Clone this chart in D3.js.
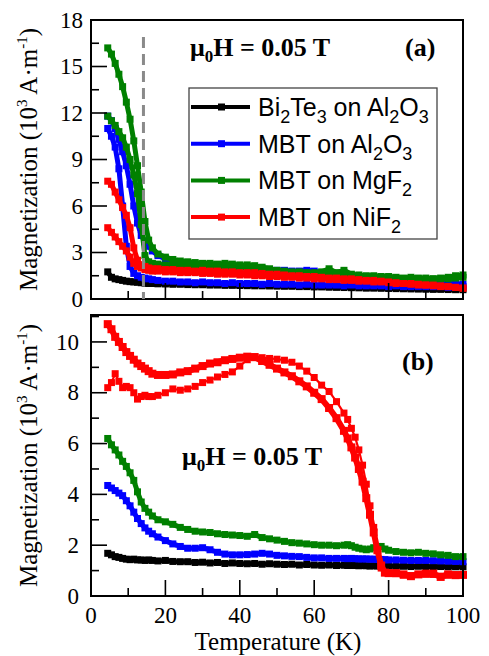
<!DOCTYPE html>
<html>
<head>
<meta charset="utf-8">
<script src="https://cdn.jsdelivr.net/npm/d3@7"></script>
<style>
body { margin: 0; background: #fff; }
</style>
</head>
<body>
<div id="chart"></div>
<script>
// ---- data, panel (a) ----
var tempA = [4.5, 5.5, 6.5, 7.5, 8.5, 9.5, 10.5, 11.5, 12.5, 13.5, 14.5, 15.5, 16.5,
  18, 20, 22, 24, 26, 28, 30, 32, 34, 36, 38, 40, 42, 44, 46, 48, 50, 52, 54, 56, 58,
  60, 62, 64, 66, 68, 70, 72, 74, 76, 78, 80, 82, 84, 86, 88, 90, 92, 94, 96, 98, 100];

var blackA = [1.75, 1.4, 1.3, 1.25, 1.2, 1.15, 1.12, 1.1, 1.08, 1.05, 1.03, 1.0, 1.0,
  0.98, 0.97, 0.95, 0.95, 0.93, 0.92, 0.92, 0.9, 0.9, 0.88, 0.88, 0.87, 0.86, 0.85, 0.85, 0.84, 0.83, 0.82, 0.82, 0.8, 0.8,
  0.78, 0.78, 0.76, 0.75, 0.74, 0.73, 0.72, 0.7, 0.7, 0.69, 0.68, 0.67, 0.66, 0.65, 0.64, 0.63, 0.62, 0.62, 0.61, 0.6, 0.6];
var blueA1 = [11.8, 11.5, 11.0, 10.3, 9.5, 8.6, 7.4, 6.0, 4.9, 4.1, 3.7, 3.4, 3.1,
  2.8, 2.6, 2.4, 2.3, 2.25, 2.2, 2.2, 2.15, 2.15, 2.1, 2.1, 2.05, 2.05, 2.0, 1.95, 1.85, 1.85, 1.85, 1.8, 1.8, 1.85,
  1.8, 1.7, 1.65, 1.6, 1.55, 1.5, 1.45, 1.4, 1.35, 1.35, 1.3, 1.25, 1.2, 1.2, 1.15, 1.1, 1.1, 1.05, 1.0, 1.0, 0.95];
var blueA2 = [11.0, 10.5, 9.8, 8.4, 6.0, 3.4, 2.1, 1.65, 1.5, 1.4, 1.35, 1.3, 1.25,
  1.2, 1.15, 1.15, 1.1, 1.1, 1.05, 1.1, 1.05, 1.05, 1.0, 1.05, 1.0, 1.0, 1.0, 0.95, 1.0, 0.95, 0.95, 0.95, 0.9, 0.95,
  0.9, 0.9, 0.9, 0.9, 0.85, 0.9, 0.85, 0.85, 0.85, 0.85, 0.8, 0.85, 0.8, 0.8, 0.8, 0.8, 0.8, 0.8, 0.75, 0.8, 0.8];
var greenA1 = [16.2, 15.8, 15.2, 14.5, 13.7, 12.7, 11.6, 10.2, 8.6, 6.9, 5.0, 3.8, 3.3,
  2.9, 2.7, 2.55, 2.45, 2.4, 2.35, 2.3, 2.3, 2.25, 2.3, 2.25, 2.2, 2.2, 2.15, 2.05, 1.95, 1.85, 1.8, 1.75, 1.75, 1.7,
  1.7, 1.75, 1.95, 1.7, 1.85, 1.6, 1.55, 1.5, 1.5, 1.45, 1.45, 1.4, 1.35, 1.4, 1.35, 1.35, 1.3, 1.35, 1.4, 1.5, 1.55];
var greenA2 = [11.8, 11.5, 11.2, 10.8, 10.4, 9.8, 9.0, 8.0, 6.8, 4.8, 2.8, 2.4, 2.3,
  2.25, 2.2, 2.2, 2.15, 2.15, 2.1, 2.1, 2.1, 2.1, 2.05, 2.05, 2.05, 2.0, 2.0, 1.95, 1.9, 1.8, 1.75, 1.7, 1.7, 1.65,
  1.6, 1.65, 1.6, 1.55, 1.55, 1.5, 1.45, 1.45, 1.45, 1.4, 1.4, 1.35, 1.3, 1.3, 1.3, 1.25, 1.3, 1.3, 1.3, 1.35, 1.4];
var redA1 = [7.6, 7.4, 6.9, 6.4, 5.9, 5.4, 4.6, 3.3, 2.5, 2.2, 2.1, 2.0, 1.95,
  1.95, 1.9, 1.9, 1.85, 1.85, 1.8, 1.85, 1.8, 1.8, 1.75, 1.75, 1.7, 1.7, 1.7, 1.65, 1.6, 1.6, 1.55, 1.5, 1.5, 1.45,
  1.45, 1.4, 1.35, 1.35, 1.3, 1.3, 1.25, 1.2, 1.2, 1.15, 1.1, 1.05, 1.0, 1.0, 0.95, 0.9, 0.9, 0.85, 0.8, 0.75, 0.7];
var redA2 = [4.6, 4.3, 4.0, 3.7, 3.4, 3.1, 2.7, 2.3, 2.1, 2.0, 1.9, 1.85, 1.8,
  1.8, 1.75, 1.75, 1.7, 1.7, 1.7, 1.65, 1.65, 1.6, 1.6, 1.6, 1.55, 1.55, 1.5, 1.5, 1.45, 1.45, 1.4, 1.4, 1.35, 1.35,
  1.3, 1.3, 1.25, 1.25, 1.2, 1.2, 1.15, 1.15, 1.1, 1.1, 1.05, 1.0, 1.0, 0.95, 0.9, 0.9, 0.85, 0.8, 0.8, 0.75, 0.7];

// ---- data, panel (b) ----
var tempB = [4.5, 5.5, 6.5, 7.5, 8.5, 9.5, 10.5, 11.5, 12.5, 13.5, 14.5, 15.5, 16.5,
  18, 20, 22, 24, 26, 28, 30, 32, 34, 36, 38, 40, 42, 44, 46, 48, 50, 52, 54, 56, 58, 60, 62, 64, 66, 68,
  69, 70, 71, 72, 73, 74, 75, 76, 77, 78, 79, 80,
  82, 84, 86, 88, 90, 92, 94, 96, 98, 100];

var blackB = [1.68, 1.62, 1.55, 1.52, 1.48, 1.45, 1.43, 1.45, 1.42, 1.42, 1.4, 1.42, 1.4,
  1.38, 1.4, 1.36, 1.35, 1.35, 1.32, 1.33, 1.3, 1.32, 1.28, 1.3, 1.28, 1.27, 1.28, 1.25, 1.27, 1.25, 1.24, 1.25, 1.22, 1.24, 1.22, 1.21, 1.22, 1.2, 1.21,
  1.2, 1.2, 1.2, 1.19, 1.2, 1.19, 1.18, 1.19, 1.18, 1.18, 1.17, 1.18,
  1.17, 1.17, 1.16, 1.17, 1.16, 1.15, 1.16, 1.15, 1.15, 1.15];
var blueB = [4.35, 4.25, 4.15, 4.05, 3.95, 3.75, 3.55, 3.3, 3.05, 2.85, 2.68, 2.55, 2.45,
  2.32, 2.18, 2.05, 1.95, 1.88, 1.88, 1.9, 1.82, 1.72, 1.65, 1.62, 1.62, 1.63, 1.65, 1.68, 1.65, 1.6, 1.58, 1.56, 1.55, 1.52, 1.5, 1.5, 1.48, 1.48, 1.48,
  1.47, 1.48, 1.47, 1.46, 1.46, 1.46, 1.45, 1.45, 1.44, 1.44, 1.43, 1.42,
  1.42, 1.41, 1.4, 1.4, 1.4, 1.39, 1.38, 1.37, 1.36, 1.35];
var greenB = [6.2, 5.95, 5.75, 5.55, 5.3, 5.1, 4.85, 4.55, 4.1, 3.7, 3.45, 3.3, 3.15,
  3.0, 2.92, 2.82, 2.7, 2.62, 2.55, 2.52, 2.5, 2.45, 2.42, 2.4, 2.38, 2.35, 2.42, 2.3, 2.25, 2.2, 2.15, 2.1, 2.08, 2.05, 2.02, 2.0, 2.0, 1.98, 2.0,
  2.02, 1.98, 1.92, 1.88, 1.85, 1.82, 1.85, 1.9, 1.95, 1.95, 1.85, 1.8,
  1.75, 1.72, 1.7, 1.72, 1.68, 1.66, 1.62, 1.6, 1.55, 1.55];
var redB1 = [10.7, 10.5, 10.2, 10.0, 9.8, 9.6, 9.45, 9.3, 9.15, 9.05, 8.95, 8.85, 8.75,
  8.7, 8.7, 8.72, 8.8, 8.85, 8.95, 9.05, 9.15, 9.2, 9.28, 9.33, 9.38, 9.42, 9.4, 9.25, 9.1, 8.95, 8.8, 8.65, 8.45, 8.25, 8.0, 7.75, 7.4, 7.0, 6.5,
  6.2, 5.85, 5.45, 5.0, 4.5, 3.85, 3.2, 2.5, 1.8, 1.2, 0.92, 0.9,
  0.9, 0.85, 0.78, 0.85, 0.88, 0.88, 0.75, 0.85, 0.82, 0.83];
var redB2 = [8.2, 8.4, 8.75, 8.45, 8.2, 8.25, 8.2, 8.0, 7.75, 7.85, 7.9, 7.85, 7.85,
  7.9, 8.0, 8.15, 8.1, 8.15, 8.25, 8.4, 8.5, 8.62, 8.72, 8.82, 9.05, 9.3, 9.42, 9.38, 9.35, 9.32, 9.28, 9.2, 9.05, 8.85, 8.6, 8.3, 8.05, 7.65, 7.2,
  6.95, 6.6, 6.25, 5.75, 5.15, 4.4, 3.55, 2.7, 1.8, 1.1, 0.92, 0.9,
  0.88, 0.82, 0.8, 0.85, 0.86, 0.85, 0.78, 0.82, 0.84, 0.85];

var legendNames = [
  [["Bi", ""], ["2", "sub"], ["Te", ""], ["3", "sub"], [" on Al", ""], ["2", "sub"], ["O", ""], ["3", "sub"]],
  [["MBT on Al", ""], ["2", "sub"], ["O", ""], ["3", "sub"]],
  [["MBT on MgF", ""], ["2", "sub"]],
  [["MBT on NiF", ""], ["2", "sub"]]
];
var colors = ["#000000", "#0000ff", "#008000", "#ff0000"];

var svgWidth = 489;
var svgHeight = 656;
var plotLeft = 91, plotRight = 463;
var serif = "Liberation Serif";

var svg = d3.select("#chart")
  .append("svg")
  .attr("width", svgWidth)
  .attr("height", svgHeight);

var x = d3.scaleLinear().domain([0, 100]).range([plotLeft, plotRight]);

function drawPanel(top, bottom, yMax, yMajor, yMinor, labelRight, showXLabels, series) {
  var y = d3.scaleLinear().domain([0, yMax]).range([bottom, top]);
  var g = svg.append("g");

  // data
  series.forEach(function(s) {
    var pts = s.temps.map((t, i) => [t, s.values[i]]);
    var line = d3.line().x(d => x(d[0])).y(d => y(d[1]));
    g.append("path")
      .datum(pts)
      .attr("fill", "none")
      .attr("stroke", s.color)
      .attr("stroke-width", s.lw)
      .attr("stroke-linejoin", "round")
      .attr("d", line);
    g.selectAll(null)
      .data(pts)
      .enter()
      .append("rect")
      .attr("x", d => x(d[0]) - s.ms / 2)
      .attr("y", d => y(d[1]) - s.ms / 2)
      .attr("width", s.ms)
      .attr("height", s.ms)
      .attr("fill", s.color);
  });

  // y ticks (inside), long on labelled values
  var yt = d3.range(0, yMax + 0.001, yMinor);
  g.selectAll(null).data(yt).enter().append("line")
    .attr("x1", plotLeft)
    .attr("x2", d => plotLeft + (Math.abs(d / yMajor - Math.round(d / yMajor)) < 1e-6 ? 16 : 8))
    .attr("y1", d => y(d)).attr("y2", d => y(d))
    .attr("stroke", "#000").attr("stroke-width", 1.6);
  var yl = d3.range(0, yMax + 0.001, yMajor);
  g.selectAll(null).data(yl).enter().append("text")
    .attr("x", labelRight)
    .attr("y", d => y(d))
    .attr("dy", "0.33em")
    .attr("text-anchor", "end")
    .attr("font-family", serif)
    .attr("font-size", 23)
    .text(d => d);

  // x ticks (inside)
  var xt = d3.range(10, 100, 10);
  g.selectAll(null).data(xt).enter().append("line")
    .attr("x1", d => x(d)).attr("x2", d => x(d))
    .attr("y1", bottom).attr("y2", d => bottom - (d % 20 === 0 ? 16 : 8))
    .attr("stroke", "#000").attr("stroke-width", 1.6);
  if (showXLabels) {
    g.selectAll(null).data(d3.range(0, 101, 20)).enter().append("text")
      .attr("x", d => x(d))
      .attr("y", bottom + 27)
      .attr("text-anchor", "middle")
      .attr("font-family", serif)
      .attr("font-size", 23)
      .text(d => d);
  }

  // frame
  g.append("rect")
    .attr("x", plotLeft).attr("y", top)
    .attr("width", plotRight - plotLeft).attr("height", bottom - top)
    .attr("fill", "none").attr("stroke", "#000").attr("stroke-width", 2);

  // y label
  var lab = g.append("text")
    .attr("transform", `translate(37, ${(top + bottom) / 2}) rotate(-90)`)
    .attr("text-anchor", "middle")
    .attr("font-family", serif)
    .attr("font-size", 25);
  lab.append("tspan").text("Magnetization (10");
  lab.append("tspan").attr("font-size", 15).attr("dy", -10).text("3");
  lab.append("tspan").attr("dy", 10).text(" A\u00b7m");
  lab.append("tspan").attr("font-size", 15).attr("dy", -10).text("-1");
  lab.append("tspan").attr("dy", 10).text(")");

  return { g: g, y: y };
}

function fieldLabel(g, px, py) {
  var t = g.append("text")
    .attr("x", px).attr("y", py)
    .attr("font-family", serif)
    .attr("font-weight", "bold")
    .attr("font-size", 26);
  t.append("tspan").text("\u03bc");
  t.append("tspan").attr("font-size", 17).attr("dy", 6).text("0");
  t.append("tspan").attr("dy", -6).text("H = 0.05 T");
}

// ---- panel (a) ----
var pa = drawPanel(20, 299, 18, 3, 1.5, 83, false, [
  { temps: tempA, values: blackA, color: colors[0], lw: 5, ms: 7 },
  { temps: tempA, values: blueA1, color: colors[1], lw: 5, ms: 7 },
  { temps: tempA, values: blueA2, color: colors[1], lw: 5, ms: 7 },
  { temps: tempA, values: greenA1, color: colors[2], lw: 5, ms: 7 },
  { temps: tempA, values: greenA2, color: colors[2], lw: 5, ms: 7 },
  { temps: tempA, values: redA1, color: colors[3], lw: 5, ms: 7 },
  { temps: tempA, values: redA2, color: colors[3], lw: 5, ms: 7 }
]);

// transition temperature marker
pa.g.append("line")
  .attr("x1", x(14.1)).attr("x2", x(14.1))
  .attr("y1", 37).attr("y2", 299)
  .attr("stroke", "#8a8a8a")
  .attr("stroke-width", 3)
  .attr("stroke-dasharray", "11,6");

fieldLabel(pa.g, 190, 56);
pa.g.append("text")
  .attr("x", 405).attr("y", 56)
  .attr("font-family", serif)
  .attr("font-weight", "bold")
  .attr("font-size", 26)
  .text("(a)");

// legend
var leg = pa.g.append("g");
leg.append("rect")
  .attr("x", 189).attr("y", 88).attr("width", 248).attr("height", 151)
  .attr("fill", "#fff").attr("stroke", "#444").attr("stroke-width", 1.3);
legendNames.forEach(function(parts, i) {
  var ly = 107 + i * 36.7;
  leg.append("line")
    .attr("x1", 191).attr("x2", 250).attr("y1", ly).attr("y2", ly)
    .attr("stroke", colors[i]).attr("stroke-width", 4);
  leg.append("rect")
    .attr("x", 218).attr("y", ly - 3.5).attr("width", 7).attr("height", 7)
    .attr("fill", colors[i]);
  var t = leg.append("text")
    .attr("x", 258).attr("y", ly + 9)
    .attr("font-family", "Liberation Sans")
    .attr("font-size", 25);
  var shifted = false;
  parts.forEach(function(p) {
    var sp = t.append("tspan").text(p[0]);
    if (p[1] === "sub") {
      sp.attr("font-size", 18).attr("dy", shifted ? 0 : 7);
      shifted = true;
    } else {
      if (shifted) sp.attr("dy", -7);
      shifted = false;
    }
  });
});

// ---- panel (b) ----
var pb = drawPanel(315, 596, 11.06, 2, 1, 79, true, [
  { temps: tempB, values: blackB, color: colors[0], lw: 5, ms: 7 },
  { temps: tempB, values: blueB, color: colors[1], lw: 5, ms: 7 },
  { temps: tempB, values: greenB, color: colors[2], lw: 5, ms: 7 },
  { temps: tempB, values: redB2, color: colors[3], lw: 2.2, ms: 7 },
  { temps: tempB, values: redB1, color: colors[3], lw: 6, ms: 8 }
]);

fieldLabel(pb.g, 182, 465);
pb.g.append("text")
  .attr("x", 402).attr("y", 370)
  .attr("font-family", serif)
  .attr("font-weight", "bold")
  .attr("font-size", 26)
  .text("(b)");

svg.append("text")
  .attr("x", 278)
  .attr("y", 650)
  .attr("text-anchor", "middle")
  .attr("font-family", serif)
  .attr("font-size", 25)
  .text("Temperature (K)");
</script>
</body>
</html>
